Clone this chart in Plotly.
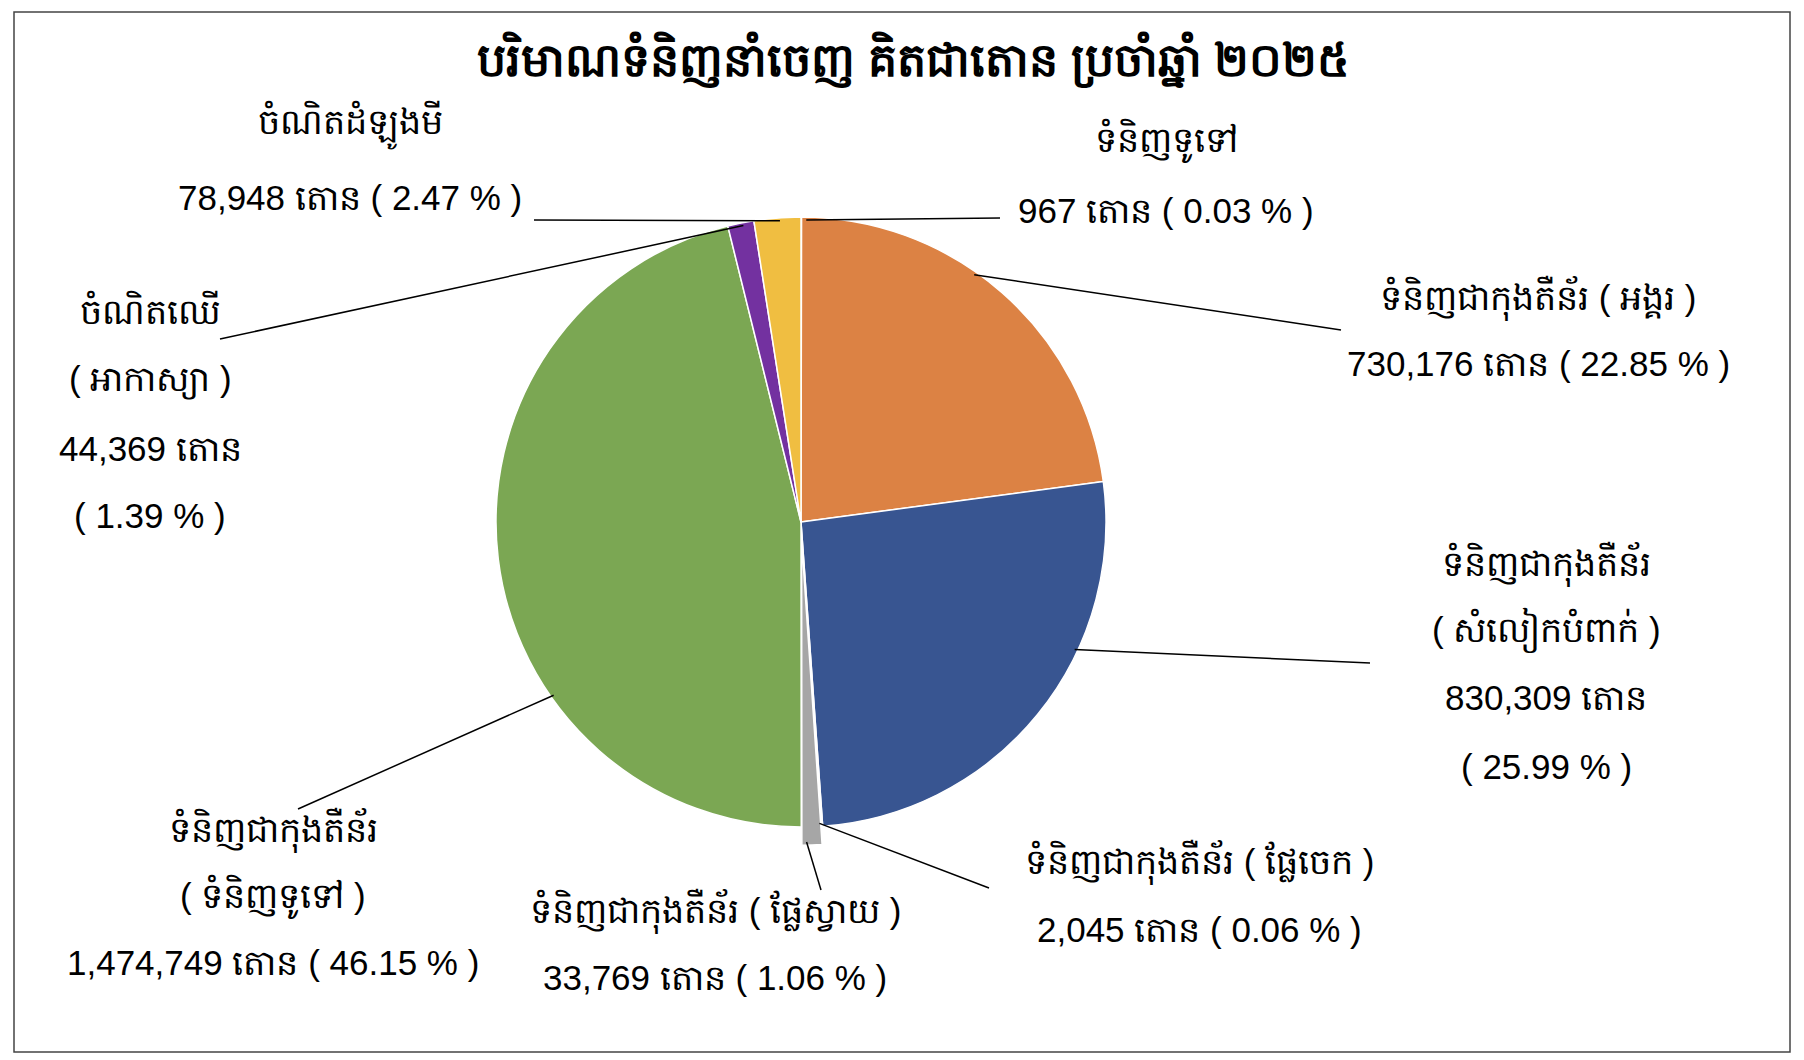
import math
import plotly.graph_objects as go

# export volume by cargo type, 2025 (tonnes)
names = [
    "ទំនិញទូទៅ",
    "ទំនិញជាកុងតឺន័រ (អង្គរ)",
    "ទំនិញជាកុងតឺន័រ (សំលៀកបំពាក់)",
    "ទំនិញជាកុងតឺន័រ (ផ្លែចេក)",
    "ទំនិញជាកុងតឺន័រ (ផ្លែស្វាយ)",
    "ទំនិញជាកុងតឺន័រ (ទំនិញទូទៅ)",
    "ចំណិតឈើ (អាកាស្យា)",
    "ចំណិតដំឡូងមី",
]
tonnes = [967, 730176, 830309, 2045, 33769, 1474749, 44369, 78948]
percents = [0.03, 22.85, 25.99, 0.06, 1.06, 46.15, 1.39, 2.47]

colors = ["#f3e3e3", "#dc8244", "#385591", "#c0392b", "#a6a6a6", "#7ba753", "#7331a0", "#f0be41"]
pulls = [0, 0, 0, 0, 0.06, 0, 0, 0]

W, H = 1804, 1060
OFF = 8  # page body margin
UNIT = "តោន"
FONT = "Liberation Sans, Arial, sans-serif"

# pie geometry in page pixels
cx, cy, R = 801, 522, 305


def px(x):
    return (x - OFF) / W


def py(y):
    return 1 - (y - OFF) / H


def split_name(n):
    if " (" in n:
        a, b = n.split(" (")
        return a, "( " + b.rstrip(")") + " )"
    return n, ""


amount = [f"{t:,} {UNIT}" for t in tonnes]
pct = [f"( {p:.2f} % )" for p in percents]

# label layout: line style, centre x, line y's, leader start, leader angle
label_style = ["one", "one", "four", "one", "one", "three", "four", "one"]
label_x = [1166, 1538, 1546, 1199, 715, 273, 150, 350]
label_y = [
    [141, 210],
    [298, 364],
    [564, 630, 697, 766],
    [862, 929],
    [911, 977],
    [830, 897, 962],
    [310, 379, 448, 515],
    [125, 197],
]
lead_start = [(1000, 218), (1341, 330), (1370, 663), (989, 888), (821, 890), (298, 809), (220, 339), (534, 220)]
lead_angle = [1, 35, 115, 176.5, 179, 235, 349, 356]

fig = go.Figure()
half = R * (1 + max(pulls))
fig.add_trace(go.Pie(
    labels=names,
    values=tonnes,
    sort=False,
    direction="clockwise",
    rotation=0,
    pull=pulls,
    marker=dict(colors=colors, line=dict(color="white", width=1.5)),
    textinfo="none",
    hoverinfo="label+value+percent",
    showlegend=False,
    domain=dict(x=[px(cx - half), px(cx + half)], y=[py(cy + half), py(cy - half)]),
))

annotations = []
shapes = [dict(type="rect", xref="paper", yref="paper",
               x0=px(14), x1=px(1790), y0=py(1052), y1=py(12),
               line=dict(color="#444", width=1.5))]

for i, n in enumerate(names):
    main, paren = split_name(n)
    if label_style[i] == "one":
        lines = [n.replace("(", "( ").replace(")", " )"), amount[i] + " " + pct[i]]
    elif label_style[i] == "three":
        lines = [main, paren, amount[i] + " " + pct[i]]
    else:
        lines = [main, paren, amount[i], pct[i]]
    for txt, y in zip(lines, label_y[i]):
        annotations.append(dict(
            x=px(label_x[i]), y=py(y), xref="paper", yref="paper",
            text=txt, showarrow=False, xanchor="center", yanchor="middle",
            font=dict(family=FONT, size=35, color="black"),
        ))
    r = R * (1 + pulls[i]) * 0.99
    a = math.radians(lead_angle[i])
    ex, ey = cx + r * math.sin(a), cy - r * math.cos(a)
    sx, sy = lead_start[i]
    shapes.append(dict(type="line", xref="paper", yref="paper",
                       x0=px(sx), y0=py(sy), x1=px(ex), y1=py(ey),
                       line=dict(color="black", width=1.5)))

annotations.append(dict(
    x=px(913), y=py(60), xref="paper", yref="paper",
    text="<b>បរិមាណទំនិញនាំចេញ គិតជាតោន ប្រចាំឆ្នាំ ២០២៥</b>",
    showarrow=False, xanchor="center", yanchor="middle",
    font=dict(family=FONT, size=46, color="black"),
))

fig.update_layout(
    width=W, height=H,
    margin=dict(l=0, r=0, t=0, b=0),
    paper_bgcolor="white",
    plot_bgcolor="white",
    annotations=annotations,
    shapes=shapes,
)

fig.write_html("out.html")
